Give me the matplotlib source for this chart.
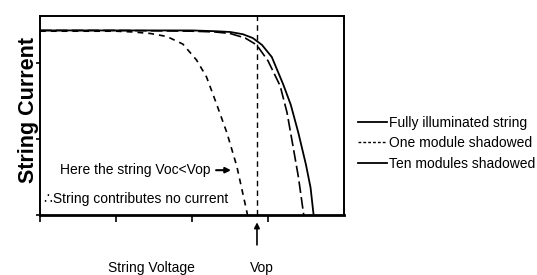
import matplotlib
matplotlib.use("Agg")
import matplotlib.pyplot as plt
from matplotlib.lines import Line2D

# I-V curves (voltage, current in arbitrary units)
v_full = [0.0, 1.0, 2.0, 2.3, 2.5, 2.67, 2.8, 2.92, 3.05, 3.2, 3.3, 3.4, 3.5,
          3.56, 3.6]
i_full = [2.43, 2.43, 2.43, 2.42, 2.41, 2.38, 2.33, 2.24, 2.08, 1.72, 1.45,
          1.08, 0.66, 0.36, 0.0]

v_one = [0.0, 1.0, 2.0, 2.3, 2.5, 2.7, 2.85, 3.0, 3.16, 3.25, 3.33, 3.4, 3.47]
i_one = [2.43, 2.43, 2.42, 2.41, 2.39, 2.33, 2.24, 2.03, 1.70, 1.35, 0.90,
         0.50, 0.0]

v_ten = [0.0, 1.0, 1.22, 1.45, 1.67, 1.88, 2.06, 2.19, 2.32, 2.46, 2.59, 2.72,
         2.73]
i_ten = [2.42, 2.42, 2.41, 2.39, 2.35, 2.25, 2.04, 1.82, 1.47, 1.08, 0.64,
         0.05, 0.0]

v_op = 2.855
x_ticks = [0, 1, 2, 3]
y_ticks = [0, 1, 2]

font = ["Liberation Sans", "DejaVu Sans"]

fig = plt.figure(figsize=(5.37, 2.75), dpi=100)
ax = fig.add_axes([40 / 537, 60 / 275, 304 / 537, 199 / 275])

ax.plot(v_full, i_full, color="black", lw=1.3)
ax.plot(v_one, i_one, color="black", lw=1.2, ls=(0, (7, 2.5)))
ax.plot(v_ten, i_ten, color="black", lw=1.2, ls=(0, (3.5, 3)))
ax.axvline(v_op, color="black", lw=1.0, ls=(0, (4, 3)))

ax.set_xlim(0, 4)
ax.set_ylim(0, 2.62)
ax.set_xticks(x_ticks)
ax.set_yticks(y_ticks)
ax.set_xticklabels([])
ax.set_yticklabels([])
ax.tick_params(axis="x", direction="out", length=5, width=1.2)
ax.tick_params(axis="y", direction="out", length=3, width=1.2)
for s in ax.spines.values():
    s.set_linewidth(1.4)
ax.spines["bottom"].set_linewidth(2.0)

ax.set_ylabel("String Current", fontsize=15.5, fontweight="bold",
              family=font)
ax.yaxis.set_label_coords(-0.002, 0.53)

ax.text(0.26, 0.59, "Here the string Voc<Vop", family=font, fontsize=10,
        va="center", ha="left")
ax.annotate("", xy=(2.55, 0.59), xytext=(2.28, 0.59),
            arrowprops=dict(arrowstyle="-|>", color="black", lw=1.5,
                            mutation_scale=8))
ax.text(0.05, 0.21, "\u2234String contributes no current", family=font,
        fontsize=10, va="center", ha="left")

ax.annotate("", xy=(v_op, -0.06), xytext=(v_op, -0.43),
            annotation_clip=False,
            arrowprops=dict(arrowstyle="-|>", color="black", lw=1.2,
                            mutation_scale=8))
ax.text(2.92, -0.70, "Vop", family=font, fontsize=10,
        ha="center", va="center", clip_on=False)
ax.text(1.46, -0.70, "String Voltage", family=font, fontsize=10,
        ha="center", va="center", clip_on=False)

handles = [Line2D([], [], color="black", lw=1.3),
           Line2D([], [], color="black", lw=1.0, ls=(0, (2, 1.5))),
           Line2D([], [], color="black", lw=1.3)]
labels = ["Fully illuminated string", "One module shadowed",
          "Ten modules shadowed"]
fig.legend(handles, labels, loc="upper left",
           bbox_to_anchor=(358 / 537, 1 - 116 / 275), frameon=False,
           prop={"family": font, "size": 10}, handlelength=2.1,
           handletextpad=0.15, labelspacing=0.45, borderpad=0,
           borderaxespad=0)

fig.savefig("out.png", dpi=100)
